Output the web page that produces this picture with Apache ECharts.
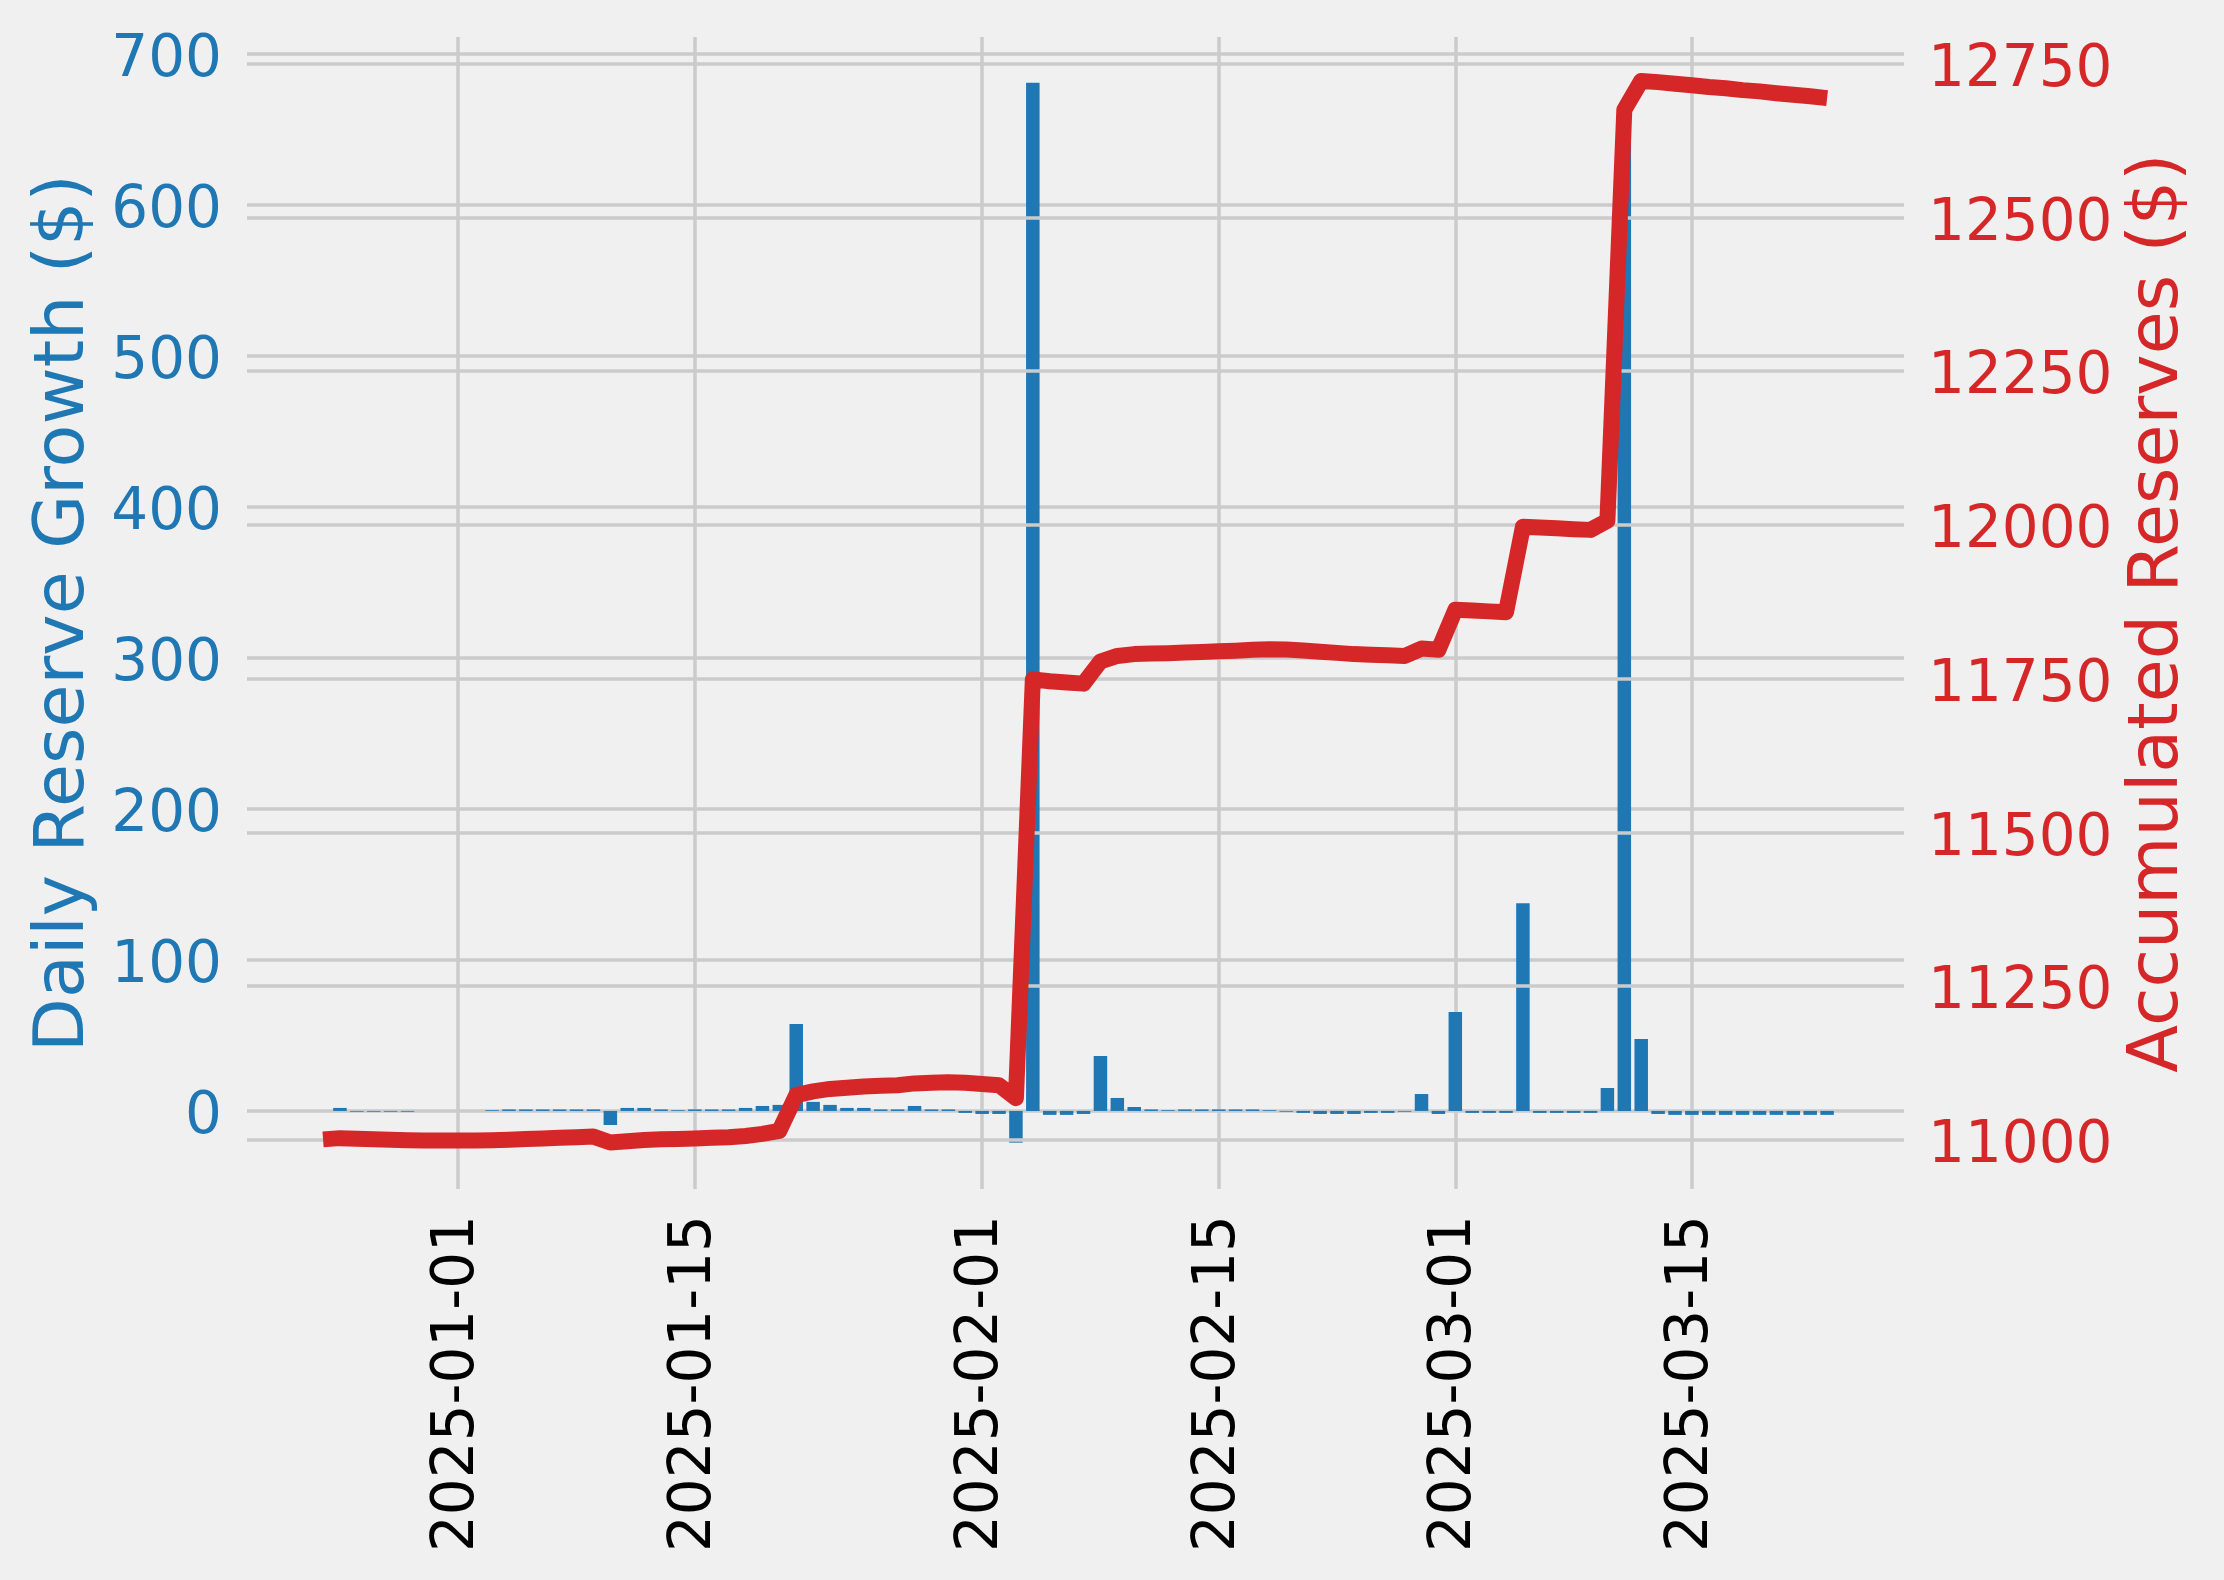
<!DOCTYPE html>
<html><head><meta charset="utf-8">
<script src="https://cdn.jsdelivr.net/npm/echarts@6/dist/echarts.min.js"></script>
<style>html,body{margin:0;padding:0;background:#f0f0f0;}#c{width:2224px;height:1580px;}</style>
</head><body><div id="c"></div>
<script>
const dates = [
'2024-12-24','2024-12-25','2024-12-26','2024-12-27','2024-12-28','2024-12-29','2024-12-30','2024-12-31',
'2025-01-01','2025-01-02','2025-01-03','2025-01-04','2025-01-05','2025-01-06','2025-01-07','2025-01-08','2025-01-09','2025-01-10',
'2025-01-11','2025-01-12','2025-01-13','2025-01-14','2025-01-15','2025-01-16','2025-01-17','2025-01-18','2025-01-19','2025-01-20',
'2025-01-21','2025-01-22','2025-01-23','2025-01-24','2025-01-25','2025-01-26','2025-01-27','2025-01-28','2025-01-29','2025-01-30','2025-01-31',
'2025-02-01','2025-02-02','2025-02-03','2025-02-04','2025-02-05','2025-02-06','2025-02-07','2025-02-08','2025-02-09','2025-02-10',
'2025-02-11','2025-02-12','2025-02-13','2025-02-14','2025-02-15','2025-02-16','2025-02-17','2025-02-18','2025-02-19','2025-02-20',
'2025-02-21','2025-02-22','2025-02-23','2025-02-24','2025-02-25','2025-02-26','2025-02-27','2025-02-28',
'2025-03-01','2025-03-02','2025-03-03','2025-03-04','2025-03-05','2025-03-06','2025-03-07','2025-03-08','2025-03-09','2025-03-10',
'2025-03-11','2025-03-12','2025-03-13','2025-03-14','2025-03-15','2025-03-16','2025-03-17','2025-03-18','2025-03-19','2025-03-20',
'2025-03-21','2025-03-22','2025-03-23'
];
const dailyGrowth = [
0, 2, -0.5, -0.5, -0.5, -0.5, 0, 0,
0, 0, 0.5, 1, 1, 1, 1, 1, 1, -9.3,
2, 2, 1, 0.5, 1, 1, 1, 2, 3.3, 4,
57.6, 6, 4, 2, 2, 1, 1, 3.3, 1, 1, -1.3,
-2, -2, -21, 681, -2.6, -2.6, -2, 36.4, 8.6, 2.6,
1, 0.5, 1, 1, 1, 1, 1, 0.5, -0.5, -1.3,
-2, -2, -2, -1.3, -1.3, -0.5, 11.2, -2,
65.5, -1.3, -1.3, -1.3, 137.5, -1.3, -1.3, -1.3, -1.3, 15.2,
665, 47.7, -2, -2.6, -2.6, -2.6, -2.6, -2.6, -2.6, -2.6,
-2.6, -2.6, -2.6
];
const accumulated = [
11001, 11003, 11002, 11001, 11000.5, 10999.5, 10999, 10999,
10999, 10999, 10999.5, 11000.5, 11001.5, 11002.5, 11003.5, 11004.5, 11005.5, 10996,
10998, 11000, 11001, 11001.5, 11002.5, 11003.5, 11004.5, 11006.5, 11010, 11015,
11073, 11079, 11083, 11085, 11087, 11088, 11089, 11092, 11093, 11094, 11093,
11091, 11089, 11068, 11749, 11746, 11744, 11742, 11778, 11787, 11790,
11791, 11791.5, 11792.5, 11793.5, 11794.5, 11795.5, 11797, 11798, 11797.5, 11796,
11794, 11792, 11790, 11789, 11788, 11787, 11799, 11797,
11862, 11861, 11859.5, 11858, 11997, 11996, 11994.5, 11993, 11992, 12007,
12675, 12722, 12720, 12717.5, 12715, 12712, 12710, 12707, 12705, 12702,
12699.5, 12697, 12694
];
const xTickLabels = ['2025-01-01','2025-01-15','2025-02-01','2025-02-15','2025-03-01','2025-03-15'];
const leftTicks = [0, 100, 200, 300, 400, 500, 600, 700];
const rightTicks = [11000, 11250, 11500, 11750, 12000, 12250, 12500, 12750];

const DAY = 86400000;
const BASE = Date.UTC(2025, 0, 1);
function day(s){ const p = s.split('-').map(Number); return Math.round((Date.UTC(p[0], p[1]-1, p[2]) - BASE) / DAY); }
function fmt(v){ return new Date(BASE + Math.round(v) * DAY).toISOString().slice(0,10); }

const FONT = 'DejaVu Sans';
const TICK_FS = 58;
const NAME_FS = 70;
const GRID = {show:true, lineStyle:{color:'#cbcbcb', width:3.5}};
const xTicks = xTickLabels.map(day);
function yLabel(color, align){
  return {
    formatter: v => '{t|' + String(v) + '}',
    rich: {t: {color: color, fontSize: TICK_FS, fontFamily: FONT, padding: [14, 0, 0, 0], align: align}}
  };
}
const chart = echarts.init(document.getElementById('c'), null, {renderer:'canvas'});
chart.setOption({
  backgroundColor:'#f0f0f0',
  animation:false,
  textStyle:{fontFamily:FONT},
  grid:{left:247, right:320, top:37, bottom:391, containLabel:false},
  xAxis:{
    type:'value',
    min: -12.5,
    max: 85.55,
    axisLine:{show:false},
    axisTick:{show:false, customValues: xTicks},
    splitLine:GRID,
    axisLabel:{customValues: xTicks, formatter: v => fmt(v), rotate:90, fontSize:TICK_FS, color:'#000', fontFamily:FONT, margin:26}
  },
  yAxis:[
    {
      type:'value', position:'left', min:-51.7, max:711.3, z:0,
      name:'Daily Reserve Growth ($)', nameLocation:'middle', nameRotate:90, nameGap:147,
      nameTextStyle:{color:'#1f77b4', fontSize:NAME_FS, fontFamily:FONT},
      axisLine:{show:false},
      axisTick:{show:false, customValues:leftTicks},
      splitLine:GRID,
      axisLabel:Object.assign({customValues:leftTicks, color:'#1f77b4', fontSize:TICK_FS, fontFamily:FONT, margin:25}, yLabel('#1f77b4','right'))
    },
    {
      type:'value', position:'right', min:10920.3, max:12793.4, z:3,
      name:'Accumulated Reserves ($)', nameLocation:'middle', nameRotate:90, nameGap:214,
      nameTextStyle:{color:'#d62728', fontSize:NAME_FS, fontFamily:FONT},
      axisLine:{show:false},
      axisTick:{show:false, customValues:rightTicks},
      splitLine:GRID,
      axisLabel:Object.assign({customValues:rightTicks, color:'#d62728', fontSize:TICK_FS, fontFamily:FONT, margin:24}, yLabel('#d62728','left'))
    }
  ],
  series:[
    {
      type:'bar', yAxisIndex:0, z:2, barWidth:13.5,
      itemStyle:{color:'#1f77b4'},
      data: dates.map((d,i) => [day(d), dailyGrowth[i]])
    },
    {
      type:'line', yAxisIndex:1, z:5, showSymbol:false, smooth:false,
      lineStyle:{color:'#d62728', width:16, cap:'butt', join:'round'},
      data: dates.map((d,i) => [day(d), accumulated[i]])
    }
  ]
});
</script></body></html>
